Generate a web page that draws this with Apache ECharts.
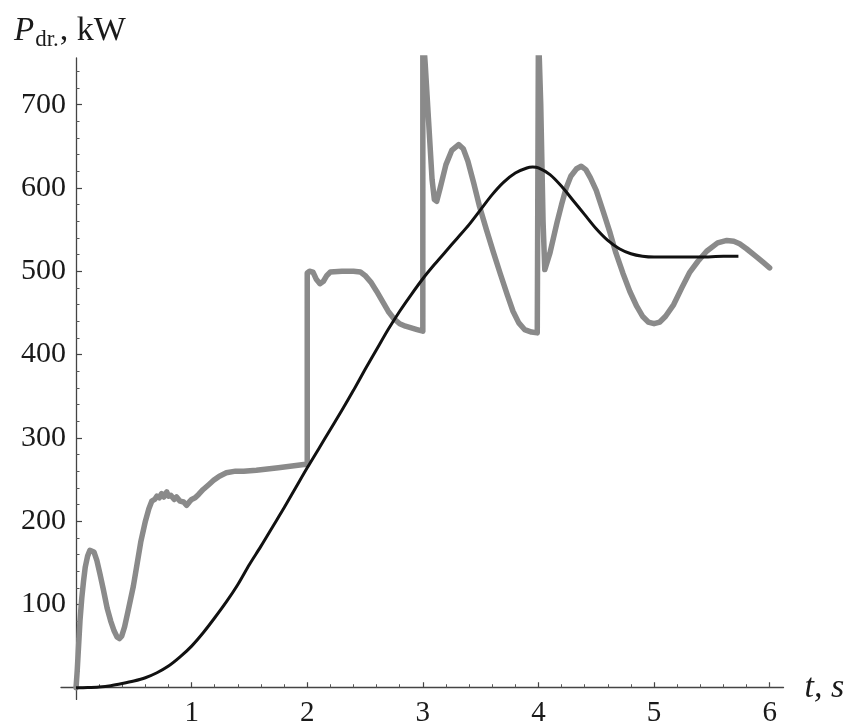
<!DOCTYPE html>
<html>
<head>
<meta charset="utf-8">
<script src="https://cdn.jsdelivr.net/npm/echarts@6/dist/echarts.min.js"></script>
<style>
html,body{margin:0;padding:0;background:#fff;}
#c{width:855px;height:725px;}
</style>
</head>
<body>
<div id="c"></div>
<script>
// Tick labels
var xTicks = [1, 2, 3, 4, 5, 6];
var yTicks = [100, 200, 300, 400, 500, 600, 700];
var xMinorTicks = [0.2,0.4,0.6,0.8,1.2,1.4,1.6,1.8,2.2,2.4,2.6,2.8,3.2,3.4,3.6,3.8,4.2,4.4,4.6,4.8,5.2,5.4,5.6,5.8,6];
var yMinorTicks = [20,40,60,80,120,140,160,180,220,240,260,280,320,340,360,380,420,440,460,480,520,540,560,580,620,640,660,680,720,740];

// Gray curve (t, s ; P, kW)
var grayT = [0, 0.01, 0.02, 0.035, 0.05, 0.065, 0.08, 0.1, 0.12, 0.136, 0.155, 0.18, 0.205, 0.236, 0.27, 0.3, 0.33, 0.355, 0.375, 0.395, 0.42, 0.45, 0.496, 0.53, 0.56, 0.6, 0.63, 0.655,
  0.68, 0.7, 0.72, 0.74, 0.76, 0.785, 0.8, 0.82, 0.85, 0.87, 0.9, 0.93, 0.957, 0.98, 1.0, 1.03, 1.06, 1.1, 1.15, 1.19, 1.24, 1.3, 1.38, 1.45, 1.56, 1.75, 1.97, 2.0,
  2.0, 2.02, 2.05, 2.08, 2.11, 2.14, 2.17, 2.2, 2.3, 2.4, 2.46, 2.5, 2.55, 2.6, 2.65, 2.7, 2.75, 2.8, 2.85, 2.9, 2.95, 3.0,
  3.0, 3.02, 3.05, 3.08, 3.1, 3.12, 3.15, 3.2, 3.25, 3.31, 3.35, 3.39, 3.44, 3.49, 3.55, 3.61, 3.67, 3.73, 3.78, 3.83, 3.88, 3.94, 3.99,
  4.0, 4.02, 4.04, 4.055, 4.07, 4.1, 4.13, 4.16, 4.2, 4.24, 4.28, 4.33, 4.37, 4.41, 4.45, 4.5, 4.56, 4.62, 4.67, 4.73, 4.79, 4.85, 4.9, 4.95, 5.0, 5.05, 5.1, 5.17, 5.24, 5.31, 5.38, 5.455, 5.55, 5.63, 5.69, 5.74, 5.8, 5.89, 5.95, 6.0];
var grayP = [0, 20, 45, 82, 108, 128, 145, 158, 165, 166, 163, 153, 138, 118, 95, 80, 68, 61, 59, 62, 73, 92, 122, 150, 175, 200, 215, 224,
  226, 230, 228, 233, 229, 235, 230, 231, 226, 229, 224, 223, 219, 223, 226, 228, 232, 238, 244, 249, 254, 258, 260, 260, 261, 264, 268, 268,
  498, 500, 499, 490, 485, 488, 495, 499, 500, 500, 499, 495, 487, 476, 464, 452, 443, 437, 434, 432, 430, 428,
  790, 750, 680, 610, 586, 584, 600, 628, 645, 652, 647, 632, 606, 578, 550, 523, 497, 472, 452, 438, 430, 427, 426,
  790, 700, 560, 502, 500, 522, 540, 558, 580, 600, 614, 623, 626, 622, 612, 597, 572, 546, 522, 498, 476, 458, 446, 439, 437, 439, 446, 460, 480, 499, 512, 524, 534, 537, 536, 533, 527, 517, 510, 504];

// Black curve
var blackT = [0, 0.1, 0.2, 0.3, 0.4, 0.5, 0.6, 0.7, 0.8, 0.9, 1.0, 1.1, 1.2, 1.3, 1.4, 1.5, 1.6, 1.7, 1.8, 1.9, 2.0, 2.1, 2.2, 2.3, 2.4, 2.5, 2.6, 2.7, 2.8, 2.9, 3.0, 3.1, 3.2, 3.3, 3.4, 3.5, 3.6, 3.7, 3.8, 3.9, 3.95, 4.0, 4.1, 4.2, 4.3, 4.4, 4.5, 4.6, 4.7, 4.8, 4.9, 5.0, 5.2, 5.4, 5.6, 5.73];
var blackP = [0, 0.3, 1, 2.5, 5, 8, 12, 18, 26, 37, 50, 66, 84, 103, 124, 148, 170, 193, 216, 240, 264, 287, 310, 333, 357, 382, 406, 430, 452, 472, 491, 508, 524, 540, 556, 574, 592, 607, 618, 624, 625, 624, 616, 602, 585, 568, 551, 537, 527, 521, 518, 517, 517, 517, 518, 518];

function zip(a, b) { return a.map(function (v, i) { return [v, b[i]]; }); }

var X_MIN = -0.13, X_MAX = 6.12, Y_MIN = -14, Y_MAX = 756;
var GRID_W = 722.5, GRID_H = 641.4;
// shift axes from the grid edges onto the zero lines
var xOff = -(0 - Y_MIN) / (Y_MAX - Y_MIN) * GRID_H;
var yOff = -(0 - X_MIN) / (X_MAX - X_MIN) * GRID_W;

var serif = '"Liberation Serif", "Times New Roman", serif';
var chart = echarts.init(document.getElementById('c'), null, {renderer: 'canvas'});
chart.setOption({
  animation: false,
  backgroundColor: '#fff',
  title: {
    text: '{i|P}{s|dr.}{n|, kW}',
    left: 9,
    top: 9,
    textStyle: {
      fontWeight: 'normal',
      rich: {
        i: {fontFamily: serif, fontStyle: 'italic', fontWeight: 'normal', fontSize: 33, color: '#1a1a1a', verticalAlign: 'bottom'},
        s: {fontFamily: serif, fontWeight: 'normal', fontSize: 23, color: '#1a1a1a', verticalAlign: 'bottom', padding: [0, 1, -3, 1]},
        n: {fontFamily: serif, fontWeight: 'normal', fontSize: 34, color: '#1a1a1a', verticalAlign: 'bottom'}
      }
    }
  },
  grid: {left: 61, top: 58, width: GRID_W, height: GRID_H, containLabel: false, outerBoundsMode: 'none'},
  xAxis: [{
    type: 'value', min: X_MIN, max: X_MAX, position: 'bottom', offset: xOff,
    name: 't, s', nameLocation: 'end', nameGap: 21,
    nameTextStyle: {fontFamily: serif, fontStyle: 'italic', fontSize: 34, color: '#1a1a1a', verticalAlign: 'middle', padding: [2, 0, 0, 0]},
    axisLine: {onZero: false, lineStyle: {color: '#444', width: 1.3}},
    axisTick: {inside: true, length: 5.5, customValues: xTicks, lineStyle: {color: '#444', width: 1.2}},
    axisLabel: {customValues: xTicks, margin: 11, fontFamily: serif, fontSize: 29, color: '#1a1a1a'},
    splitLine: {show: false}
  }, {
    type: 'value', min: X_MIN, max: X_MAX, position: 'bottom', offset: xOff,
    axisLine: {show: false, onZero: false},
    axisTick: {inside: true, length: 3.5, customValues: xMinorTicks, lineStyle: {color: '#555', width: 1}},
    axisLabel: {show: false},
    splitLine: {show: false}
  }],
  yAxis: [{
    type: 'value', min: Y_MIN, max: Y_MAX, position: 'left', offset: yOff,
    axisLine: {onZero: false, lineStyle: {color: '#444', width: 1.3}},
    axisTick: {inside: true, length: 6, customValues: yTicks, lineStyle: {color: '#444', width: 1.2}},
    axisLabel: {customValues: yTicks, margin: 10, fontFamily: serif, fontSize: 30, color: '#1a1a1a'},
    splitLine: {show: false}
  }, {
    type: 'value', min: Y_MIN, max: Y_MAX, position: 'left', offset: yOff,
    axisLine: {show: false, onZero: false},
    axisTick: {inside: true, length: 3.5, customValues: yMinorTicks, lineStyle: {color: '#555', width: 1}},
    axisLabel: {show: false},
    splitLine: {show: false}
  }],
  series: [{
    type: 'line', name: 'gray', xAxisIndex: 0, yAxisIndex: 0,
    data: zip(grayT, grayP), showSymbol: false, symbol: 'none', smooth: false, clip: true,
    lineStyle: {color: '#8a8a8a', width: 5.5, join: 'round', cap: 'round'},
    z: 2
  }, {
    type: 'line', name: 'black', xAxisIndex: 0, yAxisIndex: 0,
    data: zip(blackT, blackP), showSymbol: false, symbol: 'none', smooth: 0.3, clip: true,
    lineStyle: {color: '#111', width: 3},
    z: 3
  }]
});
</script>
</body>
</html>
